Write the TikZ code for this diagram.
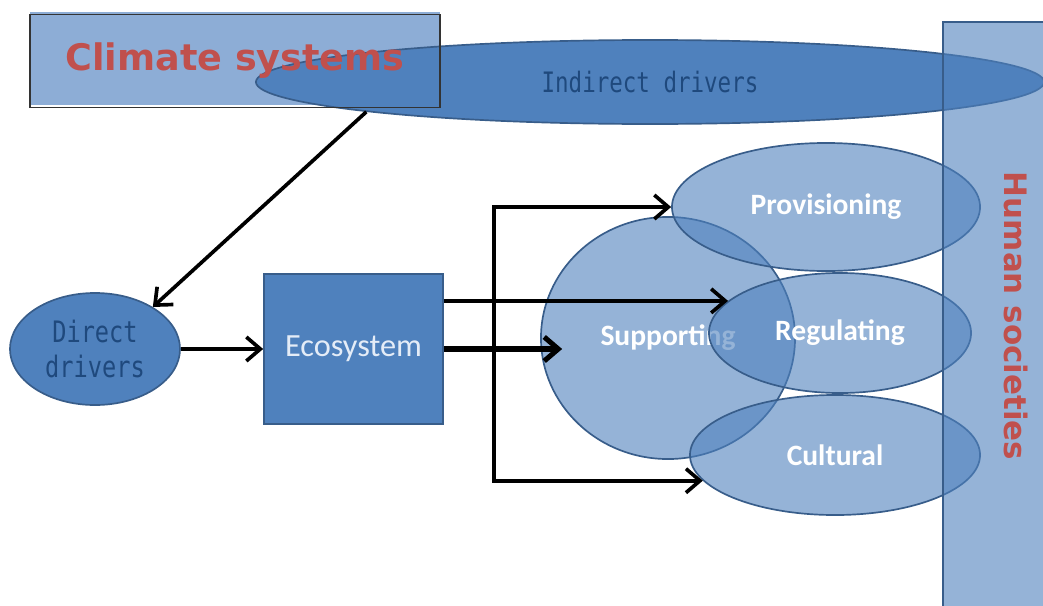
\documentclass[tikz,border=0pt]{standalone}
\usepackage{fontspec}
\usetikzlibrary{arrows.meta,shapes.geometric}
\newfontfamily\headfont{DejaVu Sans}
\newfontfamily\drvfont{DejaVu Sans Mono}[FakeStretch=0.8]
\newfontfamily\svcfont{Carlito}
\definecolor{ecoblue}{HTML}{4F81BD}
\definecolor{edgeblue}{HTML}{385D8A}
\definecolor{drvtext}{HTML}{1F497D}
\definecolor{headred}{HTML}{C0504D}
\definecolor{climfill}{HTML}{8DADD6}
\definecolor{ecotext}{HTML}{E4ECF7}
\tikzset{
  svc/.style={ellipse, draw=edgeblue, line width=1.2pt, fill=ecoblue, fill opacity=0.6, text opacity=1, inner sep=0pt, text=white, font=\svcfont\bfseries\fontsize{21}{24}\selectfont},
  drv/.style={ellipse, draw=edgeblue, line width=1.2pt, fill=ecoblue, inner sep=0pt, text=drvtext, align=center},
  arr/.style={line width=2.6pt, -{Straight Barb[length=3.5mm,width=6mm]}}
}

\begin{document}
\begin{tikzpicture}[x=0.025cm, y=-0.025cm]
		%%%%% START %%%%%
		\useasboundingbox (0,0) rectangle (1043,605);
		
		\fill[climfill] (30,12) rectangle (440,105);
		\node[drv, minimum width=19.7cm, minimum height=2.1cm, font=\drvfont\fontsize{20}{24}\selectfont] (ind) at (650,82) {Indirect drivers};
		\node[draw=black!80, line width=0.8pt, minimum width=10.25cm, minimum height=2.325cm, inner sep=0pt, text=headred, font=\headfont\bfseries\fontsize{26}{30}\selectfont] (clim) at (235,61) {Climate systems};
		
		\node[drv, minimum width=4.25cm, minimum height=2.8cm, font=\drvfont\fontsize{21}{25}\selectfont] (dd) at (95,349) {Direct\\drivers};
		\node[draw=edgeblue, line width=1.2pt, fill=ecoblue, minimum width=4.475cm, minimum height=3.75cm, inner sep=0pt, text=ecotext, font=\svcfont\fontsize{23}{26}\selectfont] (eco) at (353.5,349) {Ecosystem};
		
		\node[svc, minimum width=6.35cm, minimum height=6.05cm] (sup) at (668,338) {Supporting};
		\node[svc, minimum width=7.7cm, minimum height=3.2cm] (prov) at (826,207) {Provisioning};
		\node[svc, minimum width=6.55cm, minimum height=3cm] (reg) at (840,333) {Regulating};
		\node[svc, minimum width=7.25cm, minimum height=3cm] (cult) at (835,455) {Cultural};
		
		\coordinate (br) at ([xshift=1.26cm]eco.east);
		\coordinate (supin) at ([xshift=0.55cm]sup.west);
		
		\draw[arr] (ind.186) -- (dd.36);
		\draw[arr] (dd) -- (eco);
		\draw[arr] (eco.east |- reg.164) -- (reg.164);
		\draw[arr, line width=3.6pt] (eco.east) -- (eco.east -| supin);
		\draw[arr] (br) |- (prov.west);
		\draw[arr] (br) |- (cult.191);
		
		\draw[edgeblue, line width=1.2pt, fill=ecoblue, fill opacity=0.6] (943,22) rectangle (1050,615);
		\node[rotate=-90, text=headred, font=\headfont\bfseries\fontsize{22}{26}\selectfont] (hum) at (1016,316) {Human societies};
		%%%%% END %%%%%
\end{tikzpicture}
\end{document}
